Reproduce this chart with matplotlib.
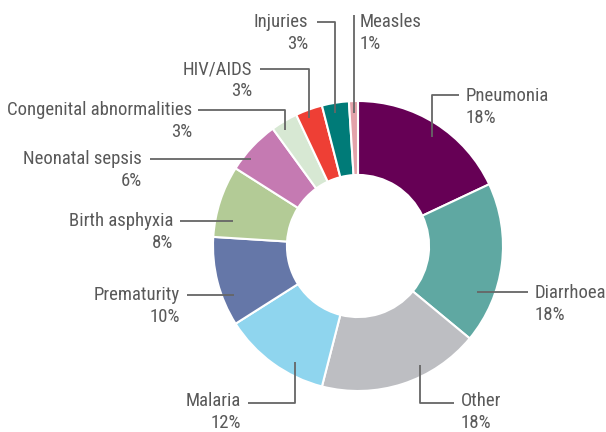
import matplotlib.pyplot as plt

# Data
causes = ["Pneumonia", "Diarrhoea", "Other", "Malaria", "Prematurity",
          "Birth asphyxia", "Neonatal sepsis", "Congenital abnormalities",
          "HIV/AIDS", "Injuries", "Measles"]
shares = [18, 18, 18, 12, 10, 8, 6, 3, 3, 3, 1]
colors = ["#660055", "#5fa8a2", "#bdbec2", "#8fd5ee", "#6577a8",
          "#b3cb96", "#c57ab2", "#d7e8d3", "#ee3f35", "#007b78", "#e3a2aa"]

plt.rcParams['font.family'] = ['Roboto Condensed', 'DejaVu Sans']

W, H = 606, 432
CX, CY, R = 358, 246, 145


def px(x, y):
    # pixel position -> data coords (pie centred at 0,0, radius 1)
    return (x - CX) / R, (CY - y) / R


fig = plt.figure(figsize=(W / 100, H / 100), dpi=100)
ax = fig.add_axes([0, 0, 1, 1])
ax.pie(shares, colors=colors, startangle=90, counterclock=False, radius=1,
       wedgeprops=dict(width=0.51, edgecolor='white', linewidth=1.5))
ax.set_xlim(-CX / R, (W - CX) / R)
ax.set_ylim(-(H - CY) / R, CY / R)
ax.set_aspect('equal')
ax.axis('off')

# label layout: leader path (pixels), text x, alignment, text line y
layout = {
    "Pneumonia": ([(432, 137), (432, 95), (459, 95)], 466, 'left', 95),
    "Diarrhoea": ([(477, 292), (528, 292)], 535, 'left', 292),
    "Other": ([(420, 365), (420, 403), (454, 403)], 461, 'left', 400),
    "Malaria": ([(295, 362), (295, 403), (248, 403)], 241, 'right', 400),
    "Prematurity": ([(234, 295), (187, 295)], 180, 'right', 294),
    "Birth asphyxia": ([(233, 221), (180, 221)], 173, 'right', 220),
    "Neonatal sepsis": ([(251, 159), (150, 159)], 142, 'right', 158),
    "Congenital abnormalities": ([(285, 130), (285, 110), (198, 110)], 192, 'right', 109),
    "HIV/AIDS": ([(309, 118), (309, 69), (260, 69)], 252, 'right', 68),
    "Injuries": ([(335, 113), (335, 22), (317, 22)], 308, 'right', 21),
    "Measles": ([(354, 113), (354, 15)], 360, 'left', 21),
}

txt = "#595959"
for name, val in zip(causes, shares):
    path, tx, ha, ly = layout[name]
    pts = [px(x, y) for x, y in path]
    ax.plot([p[0] for p in pts], [p[1] for p in pts], color="#666666", lw=1.3,
            solid_capstyle='butt')
    ax.text(*px(tx, ly + 6), name, ha=ha, va='baseline', fontsize=13.5, color=txt)
    ax.text(*px(tx, ly + 28), f"{val}%", ha=ha, va='baseline', fontsize=13.5, color=txt)

plt.savefig('out.png', dpi=100)
